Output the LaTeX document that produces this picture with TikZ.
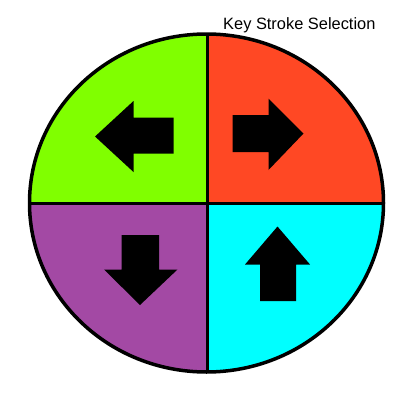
\documentclass[tikz,border=0pt]{standalone}
\usepackage{fontspec}
\setmainfont{Liberation Sans}
\usepackage{tikz}

\definecolor{keygreen}{RGB}{128,255,0}
\definecolor{keyred}{RGB}{255,72,36}
\definecolor{keypurple}{RGB}{163,73,164}
\definecolor{keycyan}{RGB}{0,255,255}

\begin{document}
\begin{tikzpicture}[
    x=1pt, y=-1pt,
    rim/.style={draw=black, line width=3.5pt},
    divider/.style={draw=black, line width=3pt},
    keyarrow/.style={fill=black},
    title/.style={anchor=base west, inner sep=0pt, font=\fontsize{16.4}{18}\selectfont}
]
\useasboundingbox (0,0) rectangle (404,410);
\coordinate (O) at (206.5,203);

% quadrants
\begin{scope}
\clip (O) ellipse [x radius=177pt, y radius=169pt];
\fill[keygreen] (O) rectangle (0,0);
\fill[keyred] (O) rectangle (404,0);
\fill[keypurple] (O) rectangle (0,410);
\fill[keycyan] (O) rectangle (404,410);
\end{scope}
\draw[rim] (O) ellipse [x radius=177pt, y radius=169pt];
\draw[divider] (207,34) -- (207,372);
\draw[divider] (30,203) -- (385,203);

% arrow keys
\fill[keyarrow] (95,136.5) -- (133.5,101) -- (133.5,117.5) -- (173.5,117.5)
    -- (173.5,153.5) -- (133.5,153.5) -- (133.5,172) -- cycle;
\fill[keyarrow] (303.5,133.5) -- (268.5,98.5) -- (268.5,115) -- (232.5,115)
    -- (232.5,152) -- (268.5,152) -- (268.5,170) -- cycle;
\fill[keyarrow] (140,305) -- (104,269.5) -- (121.5,269.5) -- (121.5,235)
    -- (159,235) -- (159,269.5) -- (177.5,269.5) -- cycle;
\fill[keyarrow] (277.5,226.5) -- (245,264.5) -- (260,264.5) -- (260,301)
    -- (296,301) -- (296,264.5) -- (310,264.5) -- cycle;

\node[title] (caption) at (223,29) {Key Stroke Selection};
\end{tikzpicture}
\end{document}
